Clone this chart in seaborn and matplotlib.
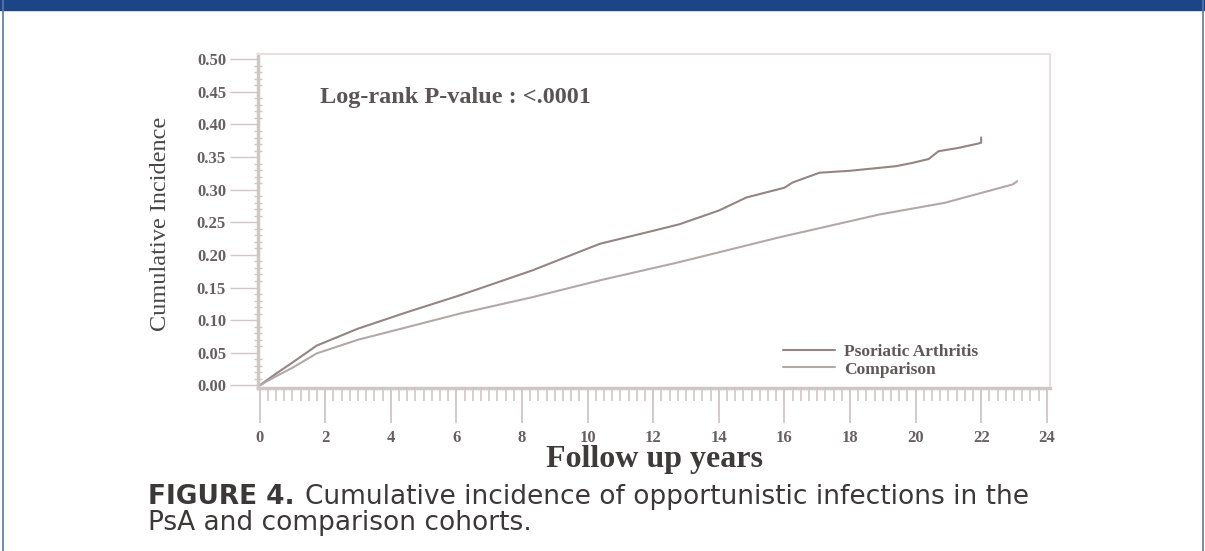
import matplotlib
matplotlib.use("Agg")
import matplotlib.pyplot as plt
import pandas as pd
import seaborn as sns
from matplotlib.patches import Rectangle
from matplotlib.lines import Line2D
from matplotlib.ticker import MultipleLocator, FormatStrFormatter

PSA_YEARS = [0, 0.5, 1.0, 1.74, 3.0, 4.48, 6.1, 8.3, 10.37, 12.0, 12.8, 14.0,
             14.84, 16.0, 16.25, 17.07, 18.0, 19.4, 19.9, 20.4, 20.7, 21.3,
             21.85, 22.0, 22.0]
PSA_CI = [0, 0.018, 0.035, 0.061, 0.087, 0.112, 0.138, 0.176, 0.217, 0.237,
          0.247, 0.268, 0.288, 0.303, 0.311, 0.326, 0.329, 0.336, 0.341,
          0.347, 0.359, 0.364, 0.370, 0.372, 0.380]
CMP_YEARS = [0, 0.5, 1.0, 1.74, 3.0, 4.48, 6.1, 8.3, 10.37, 12.8, 15.85,
             18.9, 20.9, 22.96, 23.1]
CMP_CI = [0, 0.014, 0.027, 0.049, 0.070, 0.089, 0.110, 0.135, 0.161, 0.189,
          0.227, 0.262, 0.280, 0.308, 0.313]
COHORTS = ['Psoriatic Arthritis', 'Comparison']
COLORS = ['#948585', '#b3a8a8']

df = pd.concat([
    pd.DataFrame({'years': PSA_YEARS, 'ci': PSA_CI, 'cohort': COHORTS[0]}),
    pd.DataFrame({'years': CMP_YEARS, 'ci': CMP_CI, 'cohort': COHORTS[1]}),
])

sns.set_theme(style='white')
plt.rcParams['font.family'] = ['Liberation Serif', 'DejaVu Serif']

W, H = 1205, 551
fig = plt.figure(figsize=(W / 100, H / 100), dpi=100)
ax = fig.add_axes([258 / W, 1 - 388 / H, 792 / W, 334 / H])

sns.lineplot(data=df, x='years', y='ci', hue='cohort', hue_order=COHORTS,
             palette=COLORS, estimator=None, sort=False, linewidth=1.5,
             legend=False, ax=ax)

ax.set_xlim(-0.05, 24.1)
ax.set_ylim(-0.004, 0.508)
ax.xaxis.set_major_locator(MultipleLocator(2))
ax.xaxis.set_minor_locator(MultipleLocator(0.25))
ax.yaxis.set_major_locator(MultipleLocator(0.05))
ax.yaxis.set_minor_locator(MultipleLocator(0.01))
ax.yaxis.set_major_formatter(FormatStrFormatter('%.2f'))

spine_c = '#cfc6c6'
for s in ax.spines.values():
    s.set_color('#e6e0e0')
    s.set_linewidth(1.5)
ax.spines['left'].set_color(spine_c)
ax.spines['bottom'].set_color(spine_c)
ax.spines['left'].set_linewidth(2.5)
ax.spines['bottom'].set_linewidth(2.5)

ax.tick_params(axis='x', which='major', direction='out', length=25, width=1.3,
               color=spine_c, pad=5, labelsize=12, labelcolor='#666060',
               bottom=True)
ax.tick_params(axis='x', which='minor', direction='out', length=9, width=1.2,
               color=spine_c, bottom=True)
ax.tick_params(axis='y', which='major', direction='out', length=20, width=1.0,
               color=spine_c, pad=3, labelsize=12, labelcolor='#666060',
               left=True)
ax.tick_params(axis='y', which='minor', direction='inout', length=6, width=1.0,
               color=spine_c, left=True)
for lab in ax.get_xticklabels() + ax.get_yticklabels():
    lab.set_fontweight('bold')
ax.set_xlabel('')
ax.set_ylabel('')

handles = [Line2D([], [], color=c, linewidth=1.5) for c in COLORS]
ax.legend(handles, COHORTS, loc='upper left', bbox_to_anchor=(0.643, 0.18),
          frameon=False, handlelength=3.0, handletextpad=0.5, labelspacing=0.1,
          prop={'size': 12.5, 'weight': 'bold'}, labelcolor='#605858')

fig.text(320 / W, 1 - 97 / H, 'Log-rank P-value : <.0001', fontsize=17.5,
         fontweight='bold', color='#5a5454', va='center', ha='left')
fig.text(160 / W, 1 - 224 / H, 'Cumulative Incidence', fontsize=17.5,
         rotation=90, color='#4a4646', va='center', ha='center')
fig.text(654 / W, 1 - 460 / H, 'Follow up years', fontsize=23,
         fontweight='bold', color='#3e3a3a', va='center', ha='center')

cap = dict(family=['DejaVu Sans'], fontsize=19, color='#3c3838', ha='left',
           va='center')
fig_lbl = fig.text(148 / W, 1 - 497 / H, 'FIGURE 4.', fontweight='bold', **cap)
fig.canvas.draw()
bb = fig_lbl.get_window_extent()
fig.text((bb.x1 + 10) / W, 1 - 497 / H,
         'Cumulative incidence of opportunistic infections in the', **cap)
fig.text(148 / W, 1 - 523 / H, 'PsA and comparison cohorts.', **cap)

# page frame: blue banner and thin side borders
fig.patches.append(Rectangle((0, 1 - 10 / H), 1, 10 / H,
                             transform=fig.transFigure, color='#1b4586'))
fig.add_artist(Line2D([2.5 / W, 2.5 / W], [0, 1], color='#5a78a8',
                      linewidth=1.2, transform=fig.transFigure))
fig.add_artist(Line2D([1202.5 / W, 1202.5 / W], [0, 1], color='#5a78a8',
                      linewidth=1.2, transform=fig.transFigure))

fig.savefig('out.png', dpi=100)
